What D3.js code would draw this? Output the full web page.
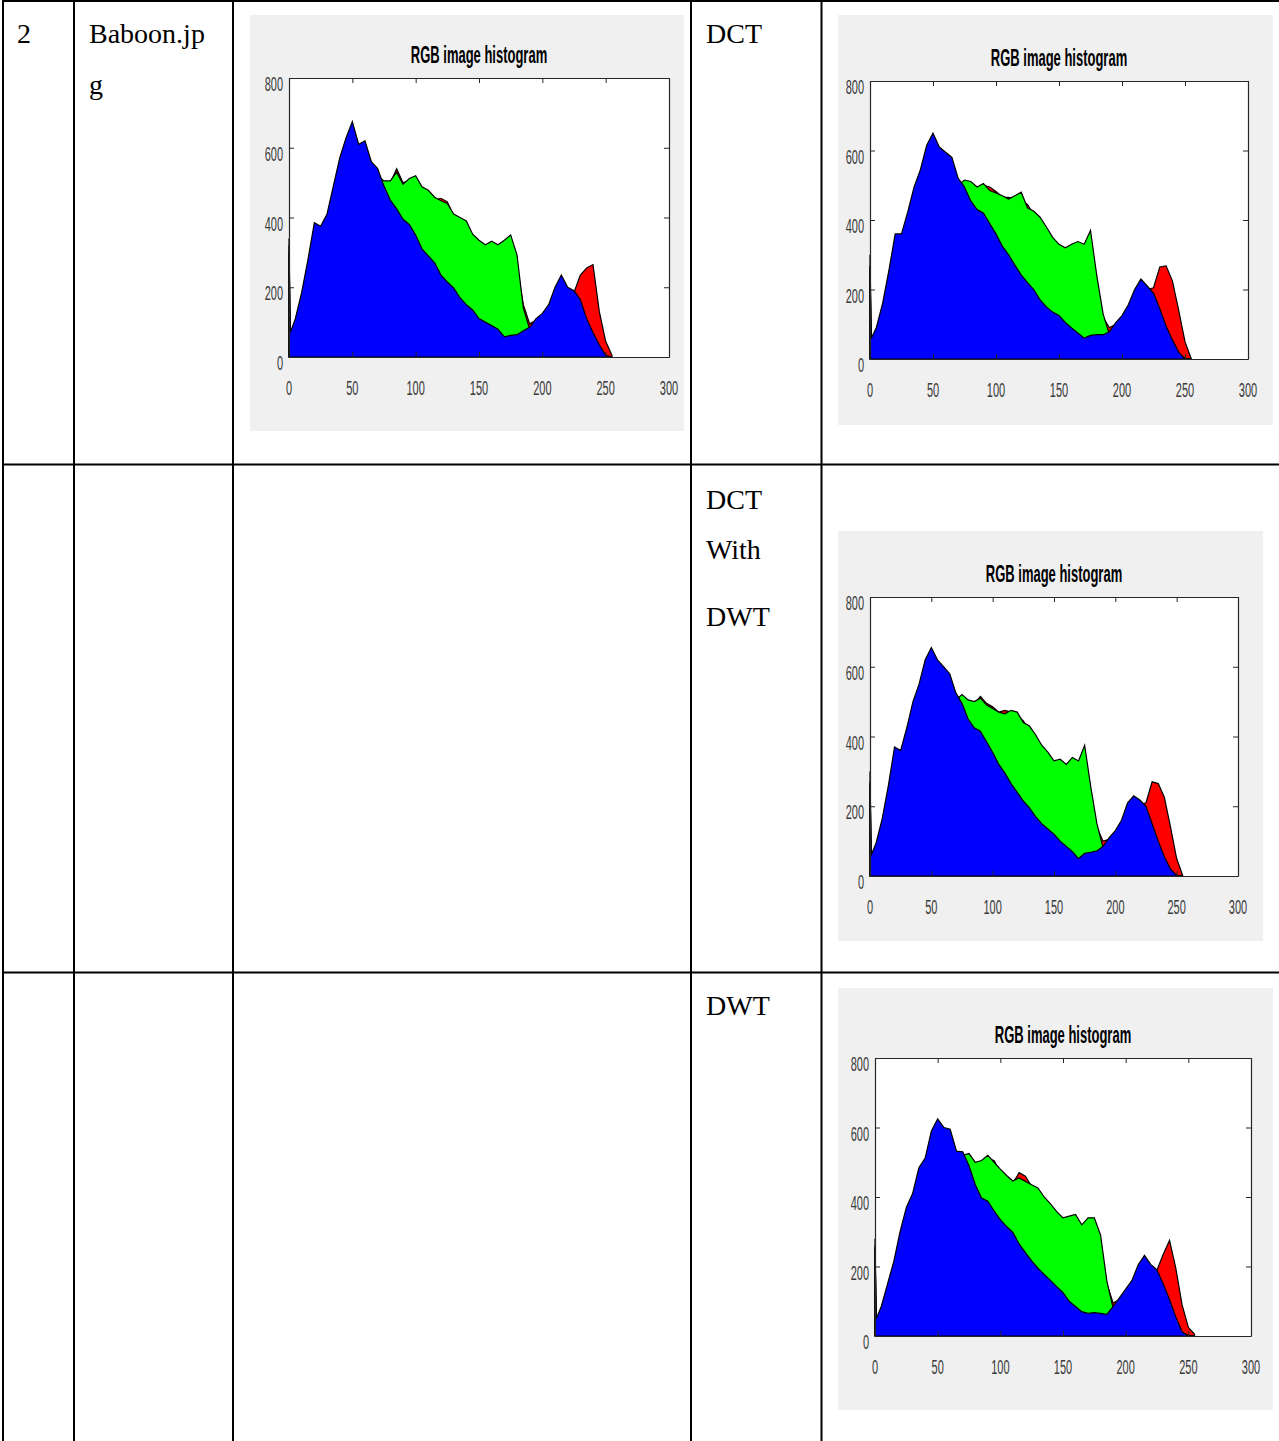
<!DOCTYPE html>
<html>
<head>
<meta charset="utf-8">
<script src="https://cdn.jsdelivr.net/npm/d3@7"></script>
<style>
  body { margin: 0; background: #fff; }
  svg { display: block; }
  text { -webkit-font-smoothing: antialiased; }
</style>
</head>
<body>
<svg id="page" width="1279" height="1441"></svg>
<script>
// intensity levels sampled from the histograms (x axis)
var levels = [0,1,5,10,15,20,25,30,35,40,45,50,55,60,65,70,75,80,85,90,95,100,105,110,115,120,125,130,135,140,145,150,155,160,165,170,175,180,185,190,195,200,205,210,215,220,225,230,235,240,245,250,255];
var xTicks = [0,50,100,150,200,250,300];
var yTicks = [0,200,400,600,800];

// original Baboon.jpg
var red1   = [300,55,95,160,250,340,350,380,460,530,590,630,580,590,530,510,480,500,540,500,505,510,480,470,450,455,445,405,395,380,340,320,310,310,300,300,290,260,150,95,105,120,140,170,190,195,185,235,255,265,130,45,5];
var green1 = [320,60,100,170,260,360,360,390,470,540,600,640,590,600,540,520,505,505,530,495,512,520,488,478,458,448,440,410,400,390,352,335,322,332,322,335,350,293,140,80,95,110,125,150,170,160,130,100,60,30,10,2,0];
var blue1  = [340,70,110,185,280,385,375,410,490,570,628,675,610,620,560,540,490,450,425,395,380,350,310,290,270,235,215,198,170,150,135,110,100,90,80,58,62,64,75,85,110,125,150,200,235,200,190,165,110,70,35,5,0];

// DCT
var red2   = [260,50,80,145,230,330,330,390,460,510,580,600,580,560,540,490,500,495,490,500,495,482,465,465,460,455,445,415,395,370,340,315,300,300,300,290,280,220,120,90,100,115,140,175,190,200,205,265,268,225,140,50,0];
var green2 = [270,55,85,150,240,340,340,400,470,520,590,620,590,570,555,500,515,511,495,505,485,478,470,460,470,480,435,425,408,380,350,330,320,330,338,330,370,240,130,70,95,110,130,150,165,160,130,95,60,30,10,2,0];
var blue2  = [300,60,90,160,255,360,360,424,495,545,615,650,610,595,580,520,495,455,430,420,390,360,325,300,270,242,220,200,170,150,135,125,105,89,75,60,68,70,70,78,105,125,156,200,230,210,190,145,95,55,20,0,0];

// DCT with DWT
var red3   = [260,50,85,150,235,335,330,390,465,515,585,605,585,565,540,495,505,500,495,515,495,485,470,475,470,460,445,420,395,365,340,315,305,300,300,290,285,230,140,100,105,120,145,175,195,205,210,270,265,225,140,50,0];
var green3 = [270,55,90,155,245,350,340,400,475,525,595,625,595,575,555,505,520,505,500,510,490,480,470,465,475,470,440,430,405,375,355,330,335,320,340,330,375,255,150,80,100,115,135,155,170,165,135,95,60,30,10,2,0];
var blue3  = [300,60,95,165,260,370,360,425,500,550,620,655,620,600,580,525,495,450,425,415,385,355,320,295,265,240,215,195,170,150,135,120,100,85,70,50,65,68,72,85,110,130,160,210,230,218,200,150,100,55,20,2,0];

// DWT
var red4   = [250,40,75,135,200,280,345,385,460,490,560,590,570,560,510,505,500,490,495,510,505,470,455,440,470,460,430,410,390,370,340,320,320,320,310,300,290,260,150,95,105,120,140,170,190,195,190,235,275,195,90,25,5];
var green4 = [260,45,80,140,205,285,355,395,470,500,570,600,580,570,520,520,525,500,505,520,500,480,462,446,455,445,435,426,400,380,358,340,345,350,320,340,340,290,158,80,100,115,135,160,175,165,140,105,70,35,10,2,0];
var blue4  = [280,50,85,150,215,300,370,410,484,512,590,625,600,595,532,530,490,436,397,388,360,335,315,298,265,240,216,195,177,160,142,125,100,85,70,65,67,65,62,85,110,135,160,205,232,206,190,150,105,55,12,0,0];

var chartTitle = "RGB image histogram";

var svg = d3.select("#page");
var sans = "'Liberation Sans', Arial, Helvetica, sans-serif";
var serif = "'Liberation Serif', 'Times New Roman', serif";

// ---- table grid ----
var vLines = [3, 74, 233, 691, 821.5];
var hLines = [1, 464.5, 972.5];
vLines.forEach(function(v){
	svg.append("line").attr("x1", v).attr("x2", v).attr("y1", 0).attr("y2", 1441)
		.attr("stroke", "#000").attr("stroke-width", 2);
});
hLines.forEach(function(h){
	svg.append("line").attr("x1", 2).attr("x2", 1279).attr("y1", h).attr("y2", h)
		.attr("stroke", "#000").attr("stroke-width", 2);
});

// ---- cell text ----
var cellText = [
	["2", 17, 43], ["Baboon.jp", 89, 43], ["g", 89, 94],
	["DCT", 706, 43],
	["DCT", 706, 509], ["With", 706, 559], ["DWT", 706, 626],
	["DWT", 706, 1015]
];
cellText.forEach(function(c){
	svg.append("text").attr("x", c[1]).attr("y", c[2]).text(c[0])
		.style("font-family", serif).style("font-size", "28px").attr("fill", "#000");
});

// stretched text, the figures were pasted squashed horizontally
function stretched(g, x, y, txt, anchor, size, weight, color){
	g.append("text")
		.attr("transform", "translate(" + x + "," + y + ") scale(1,1.9)")
		.attr("text-anchor", anchor)
		.style("font-family", sans)
		.style("font-size", size + "px")
		.style("font-weight", weight)
		.attr("fill", color)
		.text(txt);
}

function drawHist(p, red, green, blue){
	var g = svg.append("g");
	g.append("rect").attr("x", p.bx).attr("y", p.by).attr("width", p.bw).attr("height", p.bh).attr("fill", "#f0f0f0");

	var x = d3.scaleLinear().domain([0, 300]).range([p.x0, p.x1]);
	var y = d3.scaleLinear().domain([0, 800]).range([p.y0, p.y1]);

	g.append("rect").attr("x", p.x0).attr("y", p.y1).attr("width", p.x1 - p.x0).attr("height", p.y0 - p.y1).attr("fill", "#fff");

	var area = d3.area()
		.x(function(d, i){ return x(levels[i]); })
		.y0(y(0))
		.y1(function(d){ return y(d); });

	[[red, "#ff0000"], [green, "#00ff00"], [blue, "#0000ff"]].forEach(function(s){
		g.append("path").datum(s[0]).attr("d", area)
			.attr("fill", s[1]).attr("stroke", "#000").attr("stroke-width", 1.2)
			.attr("stroke-linejoin", "miter");
	});

	// box with inward ticks on all four sides
	var axes = [
		[d3.axisBottom(x).tickValues(xTicks), "translate(0," + p.y0 + ")"],
		[d3.axisTop(x).tickValues(xTicks), "translate(0," + p.y1 + ")"],
		[d3.axisLeft(y).tickValues(yTicks), "translate(" + p.x0 + ",0)"],
		[d3.axisRight(y).tickValues(yTicks), "translate(" + p.x1 + ",0)"]
	];
	axes.forEach(function(a){
		var ax = g.append("g").attr("transform", a[1])
			.call(a[0].tickSize(-5).tickSizeOuter(0).tickFormat(""));
		ax.select(".domain").attr("stroke", "#262626").attr("stroke-width", 1.2);
		ax.selectAll(".tick line").attr("stroke", "#262626");
	});

	xTicks.forEach(function(t){
		stretched(g, x(t), p.y0 + 38, t, "middle", 11, "normal", "#3a3a3a");
	});
	yTicks.forEach(function(t){
		stretched(g, p.x0 - 6, y(t) + 13, t, "end", 11, "normal", "#3a3a3a");
	});
	stretched(g, (p.x0 + p.x1) / 2, p.y1 - 15, chartTitle, "middle", 13, "bold", "#000");
}

drawHist({bx:250, by:15, bw:434, bh:416, x0:289, x1:669, y0:357, y1:78}, red1, green1, blue1);
drawHist({bx:838, by:15, bw:435, bh:410, x0:870, x1:1248, y0:359, y1:81}, red2, green2, blue2);
drawHist({bx:838, by:531, bw:425, bh:410, x0:870, x1:1238, y0:876, y1:597}, red3, green3, blue3);
drawHist({bx:838, by:988, bw:435, bh:422, x0:875, x1:1251, y0:1336, y1:1058}, red4, green4, blue4);
</script>
</body>
</html>
